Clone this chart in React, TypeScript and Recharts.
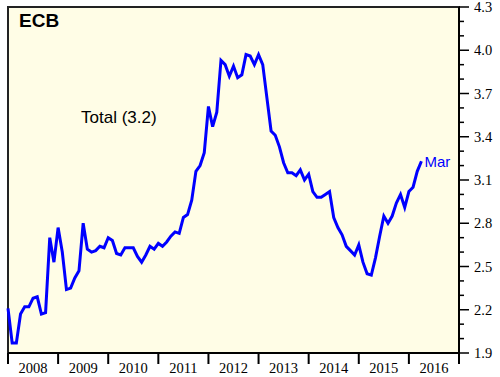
import { LineChart, Line, XAxis, YAxis, ReferenceArea } from "recharts";

// monthly values, Dec 2007 .. Mar 2016
const values = [
  2.21, 1.97, 1.97, 2.17, 2.22, 2.22, 2.28, 2.29, 2.17, 2.18,
  2.70, 2.53, 2.77, 2.60, 2.34, 2.35, 2.42, 2.47, 2.80, 2.62,
  2.60, 2.61, 2.64, 2.63, 2.70, 2.68, 2.59, 2.58, 2.63, 2.63,
  2.63, 2.57, 2.53, 2.58, 2.64, 2.62, 2.66, 2.64, 2.67, 2.71,
  2.74, 2.73, 2.84, 2.86, 2.96, 3.16, 3.20, 3.29, 3.61, 3.47,
  3.57, 3.93, 3.90, 3.82, 3.89, 3.81, 3.83, 3.97, 3.96, 3.90,
  3.97, 3.90, 3.67, 3.44, 3.41, 3.33, 3.22, 3.15, 3.15, 3.13,
  3.17, 3.10, 3.14, 3.02, 2.98, 2.98, 3.00, 3.02, 2.84, 2.77,
  2.72, 2.64, 2.61, 2.58, 2.65, 2.53, 2.45, 2.44, 2.56, 2.71,
  2.85, 2.80, 2.85, 2.94, 3.00, 2.91, 3.02, 3.05, 3.16, 3.23,
];
const years = ["2008", "2009", "2010", "2011", "2012", "2013", "2014", "2015", "2016"];
const yMinor = [
  1.9, 2.0, 2.1, 2.2, 2.3, 2.4, 2.5, 2.6, 2.7, 2.8, 2.9, 3.0, 3.1,
  3.2, 3.3, 3.4, 3.5, 3.6, 3.7, 3.8, 3.9, 4.0, 4.1, 4.2, 4.3,
];
const yLabels = ["1.9", "2.2", "2.5", "2.8", "3.1", "3.4", "3.7", "4.0", "4.3"];
const lastLabel = "Mar";
const title = "ECB";
const seriesName = "Total (3.2)";

const data = values.map((v, i) => ({ m: i, v }));
const xTicks = [...years.flatMap((_, i) => [i * 12, i * 12 + 6]), years.length * 12];

const serif = "'Liberation Serif', 'Times New Roman', serif";
const sans = "'Liberation Sans', Arial, sans-serif";

function YearTick({ x, y, payload }: any) {
  const v = payload.value as number;
  if (v % 12 === 0) {
    return <line x1={x} x2={x} y1={y} y2={y + 11} stroke="#000" strokeWidth={2} />;
  }
  return (
    <text x={x} y={y + 20} textAnchor="middle" fontFamily={serif} fontSize={14.5} fill="#000">
      {years[(v - 6) / 12]}
    </text>
  );
}

function ValueTick({ x, y, payload }: any) {
  const label = (payload.value as number).toFixed(1);
  const major = yLabels.includes(label);
  return (
    <g>
      <line x1={x} x2={x + (major ? 10 : 5)} y1={y} y2={y} stroke="#000" strokeWidth={1.5} />
      {major && (
        <text x={x + 15} y={y} dy="0.35em" fontFamily={serif} fontSize={14.5} fill="#000">
          {label}
        </text>
      )}
    </g>
  );
}

function EndLabel({ x, y, index }: any) {
  if (index !== values.length - 1) return null;
  return (
    <text x={x + 3} y={y + 6} fontFamily={sans} fontSize={15} fill="#0000ff">
      {lastLabel}
    </text>
  );
}

export default function App() {
  return (
    <div style={{ position: "absolute", left: 0, top: 0, width: 500, height: 377 }}>
      <LineChart width={500} height={377} data={data} margin={{ top: 7, right: 0, bottom: 0, left: 8 }}>
        <XAxis
          type="number"
          dataKey="m"
          domain={[0, 108]}
          ticks={xTicks}
          interval={0}
          height={24}
          tickSize={0}
          tickMargin={0}
          tickLine={false}
          axisLine={{ stroke: "#000", strokeWidth: 2 }}
          tick={<YearTick />}
        />
        <YAxis
          orientation="right"
          type="number"
          domain={[1.9, 4.3]}
          ticks={yMinor}
          interval={0}
          width={41}
          tickSize={0}
          tickMargin={0}
          tickLine={false}
          axisLine={{ stroke: "#000", strokeWidth: 2 }}
          tick={<ValueTick />}
        />
        <ReferenceArea
          x1={0}
          x2={108}
          y1={1.9}
          y2={4.3}
          fill="#fffde6"
          fillOpacity={1}
          stroke="#222"
          strokeWidth={2}
        />
        <Line
          type="linear"
          dataKey="v"
          stroke="#0000ff"
          strokeWidth={3}
          dot={false}
          isAnimationActive={false}
          label={<EndLabel />}
        />
      </LineChart>
      <svg width={500} height={377} style={{ position: "absolute", left: 0, top: 0, pointerEvents: "none" }}>
        <text x={19} y={27} fontFamily={sans} fontWeight="bold" fontSize={19} fill="#000">
          {title}
        </text>
        <text x={81} y={123} fontFamily={sans} fontSize={17} fill="#000">
          {seriesName}
        </text>
      </svg>
    </div>
  );
}
